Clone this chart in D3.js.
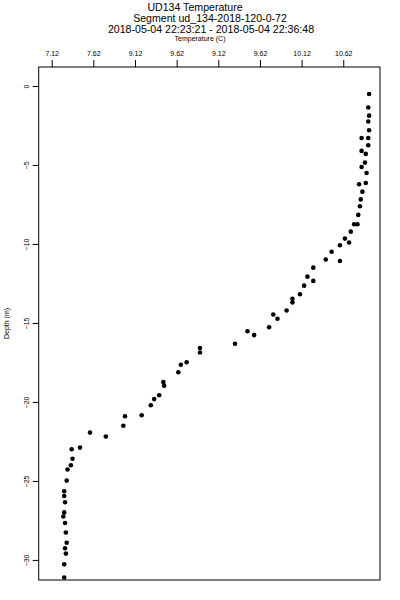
<!DOCTYPE html>
<html>
<head>
<meta charset="utf-8">
<script src="https://cdn.jsdelivr.net/npm/d3@7"></script>
<style>
body { margin: 0; background: #fff; }
text { font-family: "Liberation Sans", Arial, sans-serif; fill: #000; }
</style>
</head>
<body>
<script>
// temperature (C) and depth (m) of each sample
var temperature = [10.93, 10.92, 10.93, 10.92, 10.93, 10.84, 10.92, 10.92, 10.84, 10.89,
  10.88, 10.84, 10.90, 10.89, 10.81, 10.85, 10.83, 10.82, 10.80, 10.75,
  10.79, 10.71, 10.64, 10.69, 10.58, 10.48, 10.41, 10.58, 10.26, 10.19,
  10.26, 10.15, 10.10, 10.01, 10.01, 9.94, 9.78, 9.83, 9.73, 9.47,
  9.55, 9.32, 8.90, 8.90, 8.74, 8.67, 8.64, 8.46, 8.47, 8.41,
  8.35, 8.31, 8.20, 8.00, 7.98, 7.77, 7.58, 7.46, 7.36, 7.37,
  7.35, 7.31, 7.30, 7.27, 7.27, 7.28, 7.27, 7.26, 7.28, 7.29,
  7.30, 7.28, 7.29, 7.27, 7.27];
var depth = [-0.51, -1.36, -1.88, -2.25, -2.80, -3.29, -3.29, -3.75, -4.11, -4.30,
  -4.85, -5.13, -5.51, -6.14, -6.22, -6.69, -7.18, -7.61, -8.16, -8.75,
  -8.75, -9.22, -9.66, -9.91, -10.08, -10.49, -10.98, -11.08, -11.50, -12.07,
  -12.34, -12.64, -13.18, -13.47, -13.70, -14.21, -14.47, -14.73, -15.27, -15.53,
  -15.77, -16.32, -16.59, -16.87, -17.49, -17.65, -18.12, -18.74, -18.97, -19.58,
  -19.82, -20.21, -20.84, -20.91, -21.51, -22.19, -21.94, -22.89, -22.99, -23.60,
  -24.01, -24.28, -24.98, -25.65, -25.95, -26.35, -26.99, -27.25, -27.66, -28.26,
  -28.91, -29.26, -29.60, -30.28, -31.11];

// axis ticks (labels copied as printed on the original)
var xTicks = [7.12, 7.62, 8.12, 8.62, 9.12, 9.62, 10.12, 10.62];
var xTickLabels = ["7.12", "7.62", "9.12", "9.62", "9.12", "9.62", "10.12", "10.62"];
var yTicks = [0, -5, -10, -15, -20, -25, -30];

var titleLines = ["UD134 Temperature", "Segment ud_134-2018-120-0-72",
  "2018-05-04 22:23:21 - 2018-05-04 22:36:48"];

var width = 400;
var height = 600;
var margin = {top: 67, left: 38.7, right: 20, bottom: 20};

var svg = d3.select("body")
  .append("svg")
  .attr("width", width)
  .attr("height", height);

var xScale = d3.scaleLinear()
  .domain([6.964, 11.061])
  .range([margin.left, width - margin.right]);

var yScale = d3.scaleLinear()
  .domain([1.2, -31.27])
  .range([margin.top, height - margin.bottom]);

// top axis, temperature
var xAxis = svg.append("g")
  .attr("transform", `translate(0,${margin.top})`)
  .call(d3.axisTop(xScale)
    .tickValues(xTicks)
    .tickFormat(function(d, i) { return xTickLabels[i]; })
    .tickSize(7)
    .tickSizeOuter(0));
xAxis.select(".domain").remove();
xAxis.selectAll("line").attr("stroke", "#000");
xAxis.selectAll("text")
  .attr("font-size", "7px")
  .attr("font-family", "Liberation Sans, Arial, sans-serif")
  .attr("y", -11);

// left axis, depth; labels turned like R's
var yAxis = svg.append("g")
  .attr("transform", `translate(${margin.left},0)`)
  .call(d3.axisLeft(yScale)
    .tickValues(yTicks)
    .tickFormat(d3.format("d"))
    .tickSize(6)
    .tickSizeOuter(0));
yAxis.select(".domain").remove();
yAxis.selectAll("line").attr("stroke", "#000");
yAxis.selectAll("text")
  .attr("font-size", "7px")
  .attr("font-family", "Liberation Sans, Arial, sans-serif")
  .attr("x", null).attr("dy", null)
  .attr("text-anchor", "middle")
  .attr("transform", "translate(-12.5,0) rotate(-90) translate(0,2.5)");

// plot frame
svg.append("rect")
  .attr("x", margin.left)
  .attr("y", margin.top)
  .attr("width", width - margin.right - margin.left)
  .attr("height", height - margin.bottom - margin.top)
  .attr("fill", "none")
  .attr("stroke", "#000")
  .attr("stroke-width", 1);

// titles
var titleX = [195, 210, 211];
var titleY = [10.5, 21.5, 33];
svg.selectAll(".title")
  .data(titleLines)
  .enter()
  .append("text")
  .attr("class", "title")
  .attr("x", function(d, i) { return titleX[i]; })
  .attr("y", function(d, i) { return titleY[i]; })
  .attr("font-size", "10.6px")
  .style("text-anchor", "middle")
  .text(function(d) { return d; });

svg.append("text")
  .attr("x", 200)
  .attr("y", 40.5)
  .attr("font-size", "7px")
  .style("text-anchor", "middle")
  .text("Temperature (C)");

svg.append("text")
  .attr("transform", `translate(8.5,${(margin.top + height - margin.bottom) / 2}) rotate(-90)`)
  .attr("font-size", "7px")
  .style("text-anchor", "middle")
  .text("Depth (m)");

// samples
svg.selectAll(".pt")
  .data(temperature)
  .enter()
  .append("circle")
  .attr("class", "pt")
  .attr("cx", function(d) { return xScale(d); })
  .attr("cy", function(d, i) { return yScale(depth[i]); })
  .attr("r", 2.3)
  .attr("fill", "#000");
</script>
</body>
</html>
